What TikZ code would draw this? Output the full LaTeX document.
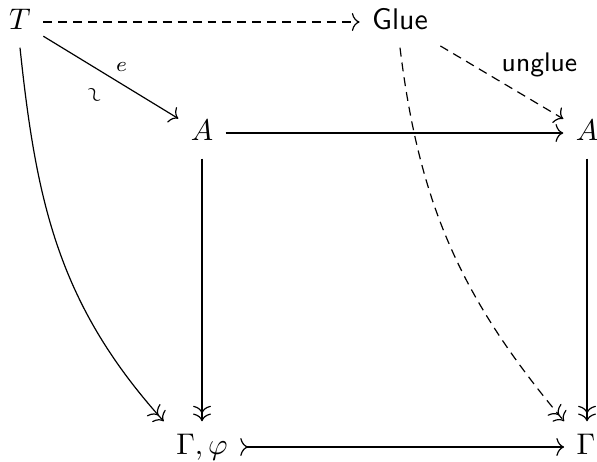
\documentclass[tikz,border=0pt]{standalone}
\usetikzlibrary{arrows.meta}
\begin{document}
\begin{tikzpicture}[x=0.335pt,y=-0.335pt,
  >={Computer Modern Rightarrow[length=2.6pt,width=6pt]},
  obj/.style={inner sep=4pt, text height=1.6ex, text depth=0.45ex},
  dsh/.style={dash pattern=on 3pt off 2pt},
  lab/.style={inner sep=0pt, font=\scriptsize}
]
\useasboundingbox (0,0) rectangle (597,462);
\node[obj] (T) at (20,22) {$T$};
\node[obj] (G) at (400,22) {\textsf{Glue}};
\node[obj] (A1) at (202,133) {$A$};
\node[obj] (A2) at (587,133) {$A$};
\node[obj] (Gp) at (202,447) {$\Gamma,\varphi$};
\node[obj] (Gm) at (586,447) {$\Gamma$};

\draw[->,dsh] (T) -- (G);
\draw[->] (T) -- (A1) node[lab, pos=0.58, above=4pt] (le) {$e$}
                      node[lab, pos=0.4, below=8pt, rotate=-60] (ls) {$\sim$};
\draw[->] (A1) -- (A2);
\draw[->,dsh] (G) -- (A2) node[pos=0.47, above right=1pt, inner sep=0pt] (lu) {\textsf{\small unglue}};
\draw[->>] (A1) -- (Gp);
\draw[->>] (A2.south) -- (A2.south |- Gm.north);
\draw[>->] (Gp) -- (Gm);
\draw[->>] (T.south) to[out=-84, in=132] (Gp.north west);
\draw[->>,dsh] (G.south) to[out=-83, in=130] (Gm.north west);
\end{tikzpicture}
\end{document}
